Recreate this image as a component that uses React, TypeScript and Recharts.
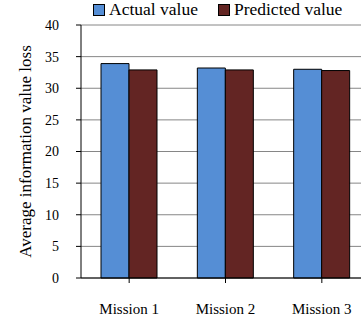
import { Bar, BarChart, CartesianGrid, XAxis, YAxis } from "recharts";

const missions = ["Mission 1", "Mission 2", "Mission 3"];
const actualValues = [33.9, 33.2, 33.0];
const predictedValues = [32.9, 32.9, 32.8];
const yTicks = [0, 5, 10, 15, 20, 25, 30, 35, 40];

const data = missions.map((name, i) => ({
  name,
  actual: actualValues[i],
  predicted: predictedValues[i],
}));

const BLUE = "#558ed5";
const RED = "#632523";
const FONT = "Liberation Serif, Times New Roman, serif";

function LegendItem({ color, label }: { color: string; label: string }) {
  return (
    <span style={{ display: "inline-flex", alignItems: "center", marginRight: 20 }}>
      <span
        style={{
          display: "inline-block",
          width: 10,
          height: 10,
          background: color,
          border: "1px solid #000",
          marginRight: 4,
        }}
      />
      {label}
    </span>
  );
}

export default function App() {
  return (
    <div
      style={{
        position: "absolute",
        left: 0,
        top: 0,
        width: 361,
        height: 321,
        overflow: "hidden",
        background: "#fff",
        fontFamily: FONT,
      }}
    >
      <div
        style={{
          position: "absolute",
          left: 93,
          top: 0,
          fontSize: 17.5,
          lineHeight: "19px",
          color: "#000",
          whiteSpace: "nowrap",
          display: "flex",
        }}
      >
        <LegendItem color={BLUE} label="Actual value" />
        <LegendItem color={RED} label="Predicted value" />
      </div>
      <BarChart
        width={370}
        height={321}
        data={data}
        margin={{ top: 25, right: 0, left: 0, bottom: 0 }}
        barCategoryGap={20}
        barGap={0}
      >
        <CartesianGrid vertical={false} stroke="#868686" strokeWidth={1} />
        <XAxis
          dataKey="name"
          height={43}
          tickSize={5}
          tickMargin={20}
          axisLine={{ stroke: "#000" }}
          tickLine={{ stroke: "#000" }}
          tick={{ fontSize: 15, fill: "#000", fontFamily: FONT }}
          interval={0}
        />
        <YAxis
          width={81}
          domain={[0, 40]}
          ticks={yTicks}
          tickSize={5}
          tickMargin={17}
          axisLine={{ stroke: "#000" }}
          tickLine={{ stroke: "#000" }}
          tick={{ fontSize: 14, fill: "#000", fontFamily: FONT }}
          label={{
            value: "Average information value loss",
            angle: -90,
            position: "center",
            dx: -16,
            style: { fontSize: 17, fill: "#000", fontFamily: FONT },
          }}
        />
        <Bar dataKey="actual" fill={BLUE} stroke="#000" strokeWidth={1} isAnimationActive={false} />
        <Bar dataKey="predicted" fill={RED} stroke="#000" strokeWidth={1} isAnimationActive={false} />
      </BarChart>
    </div>
  );
}
